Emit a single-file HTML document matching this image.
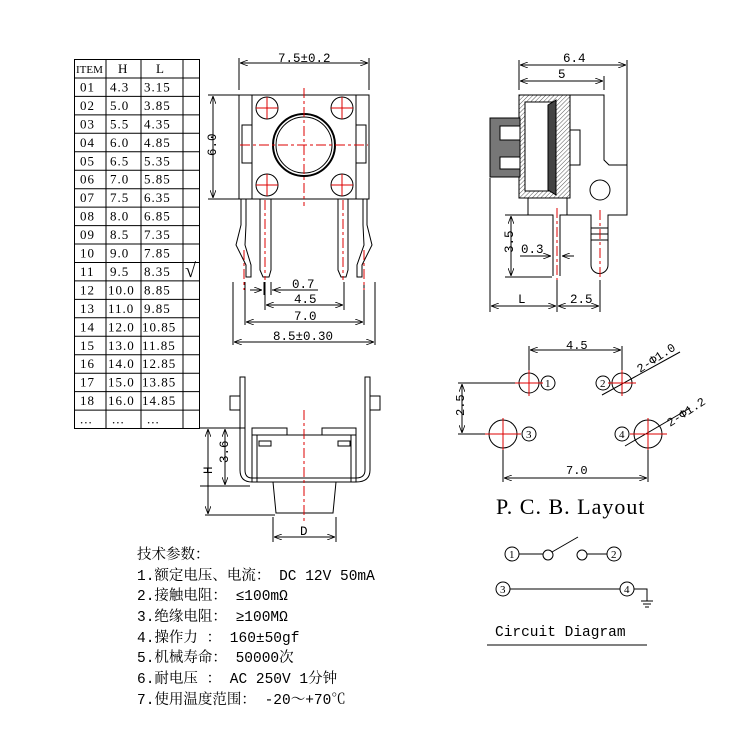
<!DOCTYPE html>
<html><head><meta charset="utf-8"><style>
html,body{margin:0;padding:0;background:#fff}
svg{display:block}
text{font-family:"Liberation Mono","Noto Serif CJK SC",monospace;fill:#000}
.sf text,text.sf{font-family:"Liberation Serif","Noto Serif CJK SC",serif}
</style></head><body>
<svg width="750" height="750" viewBox="0 0 750 750" xmlns="http://www.w3.org/2000/svg">
<defs>
<marker id="a" markerWidth="8" markerHeight="6" refX="8" refY="3" orient="auto-start-reverse"><path d="M0,0 L8,3 L0,6" fill="none" stroke="#000" stroke-width="0.8"/></marker>
<pattern id="h" width="3" height="3" patternUnits="userSpaceOnUse" patternTransform="rotate(45)"><rect width="3" height="3" fill="#fff"/><line x1="0" y1="0" x2="0" y2="3" stroke="#555" stroke-width="1"/></pattern>
</defs>
<g stroke="#000" stroke-width="1" fill="none">
<rect x="74.5" y="59.5" width="125" height="369"/>
<line x1="106" y1="59" x2="106" y2="428"/><line x1="141" y1="59" x2="141" y2="428"/><line x1="183" y1="59" x2="183" y2="428"/>
<path d="M74,78H200M74,96.4H200M74,114.9H200M74,133.3H200M74,151.8H200M74,170.2H200M74,188.7H200M74,207.1H200M74,225.6H200M74,244H200M74,262.5H200M74,280.9H200M74,299.4H200M74,317.8H200M74,336.3H200M74,354.7H200M74,373.2H200M74,391.6H200M74,410.1H200"/>
</g>
<g font-size="13" class="sf" letter-spacing="1">
<text x="76" y="73" font-size="11" letter-spacing="0">ITEM</text><text x="118" y="73">H</text><text x="156" y="73">L</text>
<text x="80" y="91.5">01</text><text x="110" y="91.5">4.3</text><text x="144" y="91.5">3.15</text>
<text x="80" y="110">02</text><text x="110" y="110">5.0</text><text x="144" y="110">3.85</text>
<text x="80" y="128.4">03</text><text x="110" y="128.4">5.5</text><text x="144" y="128.4">4.35</text>
<text x="80" y="146.8">04</text><text x="110" y="146.8">6.0</text><text x="144" y="146.8">4.85</text>
<text x="80" y="165.3">05</text><text x="110" y="165.3">6.5</text><text x="144" y="165.3">5.35</text>
<text x="80" y="183.7">06</text><text x="110" y="183.7">7.0</text><text x="144" y="183.7">5.85</text>
<text x="80" y="202.2">07</text><text x="110" y="202.2">7.5</text><text x="144" y="202.2">6.35</text>
<text x="80" y="220.6">08</text><text x="110" y="220.6">8.0</text><text x="144" y="220.6">6.85</text>
<text x="80" y="239">09</text><text x="110" y="239">8.5</text><text x="144" y="239">7.35</text>
<text x="80" y="257.5">10</text><text x="110" y="257.5">9.0</text><text x="144" y="257.5">7.85</text>
<text x="80" y="276">11</text><text x="110" y="276">9.5</text><text x="144" y="276">8.35</text>
<text x="80" y="294.4">12</text><text x="108" y="294.4">10.0</text><text x="144" y="294.4">8.85</text>
<text x="80" y="312.9">13</text><text x="108" y="312.9">11.0</text><text x="144" y="312.9">9.85</text>
<text x="80" y="331.3">14</text><text x="108" y="331.3">12.0</text><text x="142" y="331.3">10.85</text>
<text x="80" y="349.8">15</text><text x="108" y="349.8">13.0</text><text x="142" y="349.8">11.85</text>
<text x="80" y="368.2">16</text><text x="108" y="368.2">14.0</text><text x="142" y="368.2">12.85</text>
<text x="80" y="386.7">17</text><text x="108" y="386.7">15.0</text><text x="142" y="386.7">13.85</text>
<text x="80" y="405.1">18</text><text x="108" y="405.1">16.0</text><text x="142" y="405.1">14.85</text>
<text x="80" y="423.6">...</text><text x="112" y="423.6">...</text><text x="147" y="423.6">...</text>
</g>
<text x="185" y="277" font-size="20" class="sf">√</text>

<!-- top view -->
<g stroke="#000" stroke-width="1" fill="none">
<rect x="252" y="95" width="104" height="104"/>
<rect x="239" y="95" width="13" height="104"/><rect x="356" y="95" width="13" height="104"/>
<rect x="242" y="125" width="10" height="38"/><rect x="356" y="125" width="10" height="38"/>
<circle cx="304" cy="145" r="31" stroke-width="2"/><circle cx="304" cy="145" r="28"/>
<circle cx="267" cy="108" r="11"/><circle cx="342" cy="108" r="11"/><circle cx="267" cy="185" r="11"/><circle cx="342" cy="185" r="11"/>
<path d="M260,199 V270 L263,277 H269 L271,270 V199"/>
<path d="M338,199 V270 L341,277 H346 L348,270 V199"/>
<path d="M241,199 V225 L236,245 L246,265 V277 H251 V265 L245,245 L246,225 V199"/>
<path d="M367,199 V225 L372,245 L362,265 V277 H357 V265 L364,245 L363,225 V199"/>
<line x1="239" y1="90" x2="239" y2="58"/><line x1="369" y1="90" x2="369" y2="58"/>
<line x1="240" y1="63" x2="368" y2="63" marker-start="url(#a)" marker-end="url(#a)"/>
<line x1="208" y1="95" x2="250" y2="95"/><line x1="208" y1="199" x2="250" y2="199"/>
<line x1="213" y1="96" x2="213" y2="198" marker-start="url(#a)" marker-end="url(#a)"/>
<line x1="245" y1="282" x2="245" y2="325"/><line x1="264" y1="282" x2="264" y2="295"/><line x1="271" y1="282" x2="271" y2="295"/>
<line x1="265" y1="282" x2="265" y2="310"/><line x1="344" y1="282" x2="344" y2="310"/>
<line x1="364" y1="282" x2="364" y2="325"/><line x1="233" y1="282" x2="233" y2="345"/><line x1="375" y1="282" x2="375" y2="345"/>
<line x1="250" y1="290" x2="262" y2="290" marker-end="url(#a)"/><line x1="290" y1="290" x2="273" y2="290" marker-end="url(#a)"/><line x1="272" y1="290" x2="318" y2="290"/>
<line x1="266" y1="305" x2="343" y2="305" marker-start="url(#a)" marker-end="url(#a)"/>
<line x1="246" y1="322" x2="363" y2="322" marker-start="url(#a)" marker-end="url(#a)"/>
<line x1="234" y1="342" x2="374" y2="342" marker-start="url(#a)" marker-end="url(#a)"/>
</g>
<g stroke="#d00" stroke-width="1" stroke-dasharray="10,3,3,3" fill="none">
<line x1="304" y1="88" x2="304" y2="206"/><line x1="240" y1="145" x2="368" y2="145"/>
<line x1="265" y1="200" x2="265" y2="280"/><line x1="343" y1="200" x2="343" y2="280"/>
<line x1="244" y1="250" x2="244" y2="290"/><line x1="364" y1="250" x2="364" y2="290"/>
</g>
<g stroke="#d00" stroke-width="1">
<line x1="256" y1="108" x2="278" y2="108"/><line x1="267" y1="97" x2="267" y2="119"/>
<line x1="331" y1="108" x2="353" y2="108"/><line x1="342" y1="97" x2="342" y2="119"/>
<line x1="256" y1="185" x2="278" y2="185"/><line x1="267" y1="174" x2="267" y2="196"/>
<line x1="331" y1="185" x2="353" y2="185"/><line x1="342" y1="174" x2="342" y2="196"/>
</g>
<g font-size="12.5">
<text x="278" y="62">7.5±0.2</text>
<text x="203" y="153" transform="rotate(-90 211 148)">6.0</text>
<text x="292" y="288">0.7</text><text x="294" y="303">4.5</text><text x="294" y="320">7.0</text><text x="273" y="340">8.5±0.30</text>
</g>

<!-- side view -->
<g stroke="#000" stroke-width="1" fill="none">
<rect x="519" y="95" width="51" height="103" fill="url(#h)"/>
<rect x="525" y="102" width="30" height="89" fill="#fff"/>
<path d="M490,118 H520 V177 H490 Z" fill="#777"/>
<rect x="500" y="126" width="20" height="14" fill="#fff"/><rect x="500" y="157" width="20" height="12" fill="#fff"/>
<path d="M548,105 L556,100 V195 L548,190 Z" fill="#444"/>
<path d="M570,95 H604 V160 L609,165 H627 V215 H608 V265 A8,8 0 0 1 591,265 V215 H567 V198"/>
<rect x="570" y="130" width="10" height="35"/>
<circle cx="600" cy="190" r="10"/>
<line x1="591" y1="228" x2="608" y2="228"/><line x1="591" y1="234" x2="608" y2="234"/><line x1="591" y1="240" x2="608" y2="240"/>
<path d="M528,198 V215 H553 V276 M560,276 V215 H567"/>
<line x1="519" y1="90" x2="519" y2="60"/><line x1="627" y1="215" x2="627" y2="60"/><line x1="604" y1="90" x2="604" y2="76"/>
<line x1="520" y1="65" x2="626" y2="65" marker-start="url(#a)" marker-end="url(#a)"/>
<line x1="520" y1="81" x2="603" y2="81" marker-start="url(#a)" marker-end="url(#a)"/>
<line x1="505" y1="215" x2="545" y2="215"/><line x1="505" y1="277" x2="552" y2="277"/>
<line x1="511" y1="216" x2="511" y2="276" marker-start="url(#a)" marker-end="url(#a)"/>
<line x1="520" y1="256" x2="551" y2="256" marker-end="url(#a)"/><line x1="574" y1="256" x2="562" y2="256" marker-end="url(#a)"/>
<line x1="490" y1="178" x2="490" y2="312"/><line x1="557" y1="280" x2="557" y2="312"/><line x1="600" y1="280" x2="600" y2="312"/>
<line x1="491" y1="306" x2="556" y2="306" marker-start="url(#a)" marker-end="url(#a)"/>
<line x1="558" y1="306" x2="599" y2="306" marker-start="url(#a)" marker-end="url(#a)"/>
</g>
<g stroke="#d00" stroke-width="1" stroke-dasharray="10,3,3,3"><line x1="557" y1="208" x2="557" y2="280"/><line x1="600" y1="210" x2="600" y2="280"/></g>
<g font-size="12.5">
<text x="563" y="62">6.4</text><text x="558" y="78">5</text>
<text x="500" y="250" transform="rotate(-90 508 245)">3.5</text>
<text x="521" y="253">0.3</text><text x="518" y="303">L</text><text x="570" y="303">2.5</text>
</g>

<!-- bottom view -->
<g stroke="#000" stroke-width="1" fill="none">
<path d="M240,377 V470 Q240,482 252,482 H356 Q370,482 370,470 V377 H365 V470 Q365,478 356,478 H252 Q245,478 245,470 V377 Z"/>
<rect x="230" y="396" width="10" height="14"/><rect x="370" y="396" width="10" height="14"/>
<rect x="252" y="435" width="104" height="47"/><rect x="257" y="435" width="94" height="47"/>
<rect x="252" y="428" width="35" height="7"/><rect x="322" y="428" width="34" height="7"/>
<rect x="259" y="441" width="12" height="5"/><rect x="338" y="441" width="12" height="5"/>
<path d="M273,482 L276,513 H333 L336,482"/>
<line x1="200" y1="428" x2="245" y2="428"/><line x1="200" y1="486" x2="250" y2="486"/><line x1="205" y1="515" x2="275" y2="515"/>
<line x1="208" y1="429" x2="208" y2="514" marker-start="url(#a)" marker-end="url(#a)"/>
<line x1="225" y1="429" x2="225" y2="485" marker-start="url(#a)" marker-end="url(#a)"/>
<line x1="273" y1="517" x2="273" y2="542"/><line x1="336" y1="517" x2="336" y2="542"/>
<line x1="274" y1="537" x2="335" y2="537" marker-start="url(#a)" marker-end="url(#a)"/>
</g>
<g stroke="#d00" stroke-dasharray="10,3,3,3"><line x1="304" y1="410" x2="304" y2="522"/></g>
<g font-size="12.5">
<text x="204" y="474" transform="rotate(-90 208 470)">H</text>
<text x="216" y="459" transform="rotate(-90 224 455)">3.6</text>
<text x="300" y="535">D</text>
</g>

<!-- PCB layout -->
<g stroke="#000" stroke-width="1" fill="none">
<circle cx="529" cy="383" r="10"/><circle cx="622" cy="383" r="10"/><circle cx="503" cy="434" r="14"/><circle cx="648" cy="434" r="14"/>
<circle cx="548" cy="383" r="7"/><circle cx="603" cy="383" r="7"/><circle cx="529" cy="434" r="7"/><circle cx="622" cy="434" r="7"/>
<line x1="529" y1="346" x2="529" y2="372"/><line x1="622" y1="346" x2="622" y2="372"/>
<line x1="530" y1="350" x2="621" y2="350" marker-start="url(#a)" marker-end="url(#a)"/>
<line x1="458" y1="383" x2="518" y2="383"/><line x1="458" y1="434" x2="488" y2="434"/>
<line x1="462" y1="384" x2="462" y2="433" marker-start="url(#a)" marker-end="url(#a)"/>
<line x1="503" y1="448" x2="503" y2="482"/><line x1="648" y1="448" x2="648" y2="482"/>
<line x1="504" y1="478" x2="647" y2="478" marker-start="url(#a)" marker-end="url(#a)"/>
<line x1="602" y1="395" x2="680" y2="352"/><line x1="625" y1="446" x2="690" y2="408"/>
<circle cx="512" cy="554" r="7"/><line x1="519" y1="554" x2="543" y2="554"/><circle cx="548" cy="555" r="5"/><line x1="552" y1="552" x2="578" y2="537"/>
<circle cx="582" cy="555" r="5"/><line x1="587" y1="554" x2="607" y2="554"/><circle cx="614" cy="554" r="7"/>
<circle cx="503" cy="589" r="7"/><line x1="510" y1="589" x2="620" y2="589"/><circle cx="627" cy="589" r="7"/>
<path d="M634,589 H647 V601 M641,601 H653 M643,604 H651 M645,607 H649"/>
<line x1="487" y1="645" x2="647" y2="645"/>
</g>
<g stroke="#d00" stroke-width="1">
<line x1="515" y1="383" x2="543" y2="383"/><line x1="529" y1="370" x2="529" y2="396"/>
<line x1="608" y1="383" x2="636" y2="383"/><line x1="622" y1="370" x2="622" y2="396"/>
<line x1="485" y1="434" x2="521" y2="434"/><line x1="503" y1="418" x2="503" y2="450"/>
<line x1="630" y1="434" x2="667" y2="434"/><line x1="648" y1="418" x2="648" y2="450"/>
</g>
<g font-size="11" class="sf">
<text x="545" y="387">1</text><text x="600" y="387">2</text><text x="526" y="438">3</text><text x="619" y="438">4</text>
<text x="509" y="558">1</text><text x="611" y="558">2</text><text x="500" y="593">3</text><text x="624" y="593">4</text>
</g>
<g font-size="12">
<text x="566" y="349">4.5</text><text x="566" y="474">7.0</text>
<text x="452" y="412" transform="rotate(-90 460 408)">2.5</text>
<text x="640" y="373" transform="rotate(-33 640 373)">2-Φ1.0</text>
<text x="670" y="427" transform="rotate(-33 670 427)">2-Φ1.2</text>
</g>
<text x="496" y="514" font-size="22" class="sf" letter-spacing="1">P. C. B. Layout</text>
<text x="495" y="636" font-size="14.5">Circuit Diagram</text>

<!-- specs -->
<g font-size="14.5">
<text x="137" y="559">技术参数：</text>
<text x="137" y="580">1.额定电压、电流： DC 12V 50mA</text>
<text x="137" y="600">2.接触电阻： ≤100mΩ</text>
<text x="137" y="621">3.绝缘电阻： ≥100MΩ</text>
<text x="137" y="642">4.操作力  ： 160±50gf</text>
<text x="137" y="662">5.机械寿命： 50000次</text>
<text x="137" y="683">6.耐电压  ： AC 250V 1分钟</text>
<text x="137" y="704">7.使用温度范围： -20～+70℃</text>
</g>
</svg>
</body></html>
